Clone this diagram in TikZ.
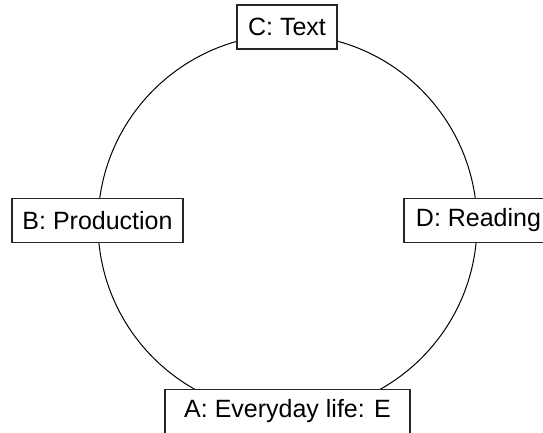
\documentclass[tikz,border=0pt]{standalone}
\usepackage{fontspec}
\setmainfont{Liberation Sans}
\begin{document}
\begin{tikzpicture}[x=1pt,y=-1pt,
  stage/.style={draw=black!85,line width=1.5pt,fill=white,inner sep=0pt,minimum height=44pt,font=\fontsize{25}{28}\selectfont,anchor=center},
  ring/.style={draw=black,line width=1pt}]
\useasboundingbox (0,0) rectangle (543,433);
\coordinate (O) at (287.5,224);
\draw[ring] (O) circle[radius=189.5];
\node[stage,minimum width=100pt] (C) at (287,27) {C: Text};
\node[stage,minimum width=171pt] (B) at (97.5,220.5) {B: Production};
\node[stage,minimum width=149pt] (D) at (478.5,220.5) {D: Reading};
\node[stage,minimum width=245pt] (A) at (287.5,411.5) {A: Everyday life: E};
\end{tikzpicture}
\end{document}
